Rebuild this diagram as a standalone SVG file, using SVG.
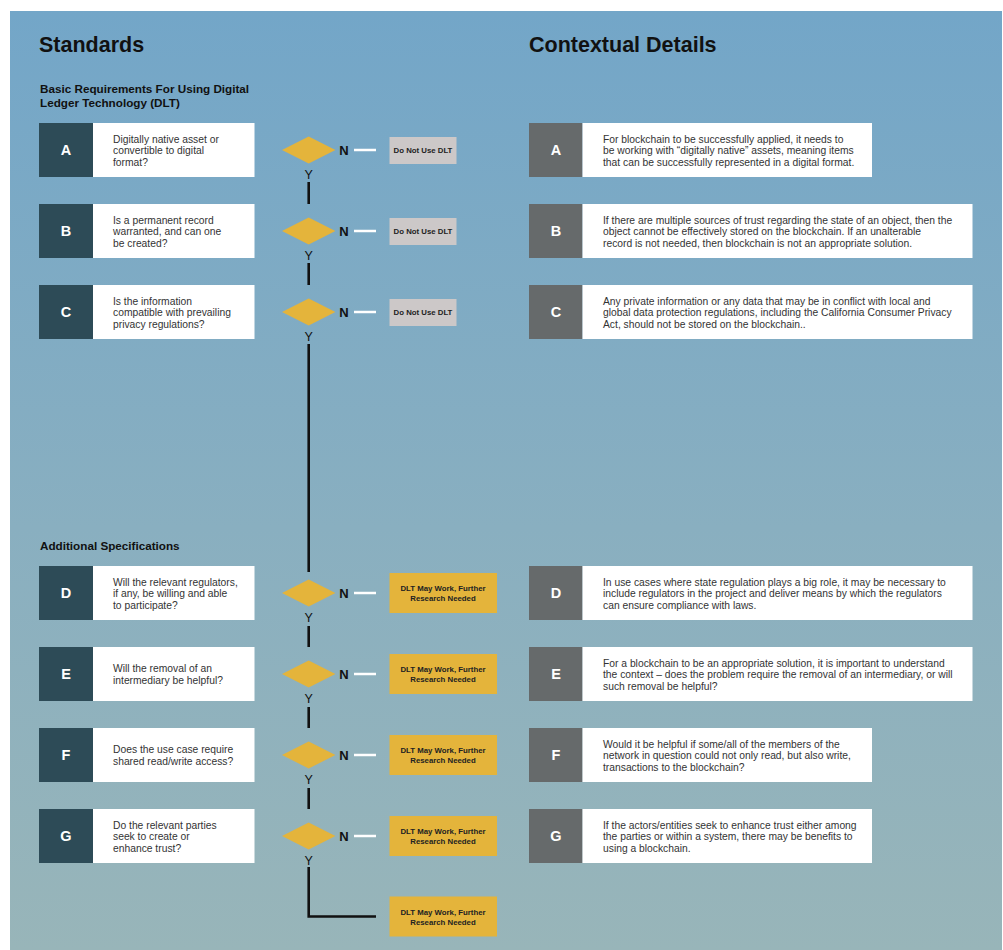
<svg xmlns="http://www.w3.org/2000/svg" width="1003" height="950" viewBox="0 0 1003 950">
<defs>
<linearGradient id="bg" x1="0" y1="0" x2="0" y2="1">
<stop offset="0" stop-color="#73A6C8"/>
<stop offset="0.55" stop-color="#89AFC0"/>
<stop offset="1" stop-color="#98B5B9"/>
</linearGradient>
<style>
text{font-family:"Liberation Sans",Arial,sans-serif;}
.h1{font-size:21.5px;font-weight:bold;fill:#111;}
.h2{font-size:11.7px;font-weight:bold;fill:#111;}
.lk{fill:#2D4B57;}
.rk{fill:#666A6B;}
.wb{fill:#FFFFFF;}
.let{font-size:14.5px;font-weight:bold;fill:#FFFFFF;text-anchor:middle;}
.q{font-size:10.3px;fill:#333;}
.d{font-size:10.3px;fill:#333;}
.dia{fill:#E4B43B;}
.nl{font-size:13px;font-weight:bold;fill:#111;text-anchor:middle;}
.yl{font-size:12.5px;fill:#111;text-anchor:middle;}
.grey{fill:#CCC8C8;}
.yel{fill:#E4B43B;}
.bt{font-size:7.8px;font-weight:bold;fill:#222;text-anchor:middle;}
.wl{stroke:#FFFFFF;stroke-width:2.5;fill:none;}
.kl{stroke:#111;stroke-width:2.6;fill:none;}
</style>
</defs>
<rect x="10" y="11" width="992" height="939" fill="url(#bg)"/>
<text class="h1" x="39" y="52">Standards</text>
<text class="h1" x="529" y="52">Contextual Details</text>
<text class="h2" x="40" y="93">Basic Requirements For Using Digital</text>
<text class="h2" x="40" y="107">Ledger Technology (DLT)</text>
<text class="h2" x="40" y="550">Additional Specifications</text>

<g id="connectors">
<line class="wl" x1="354" y1="150" x2="376" y2="150"/>
<line class="wl" x1="354" y1="231" x2="376" y2="231"/>
<line class="wl" x1="354" y1="312" x2="376" y2="312"/>
<line class="wl" x1="354" y1="593" x2="376" y2="593"/>
<line class="wl" x1="354" y1="674" x2="376" y2="674"/>
<line class="wl" x1="354" y1="755" x2="376" y2="755"/>
<line class="wl" x1="354" y1="836" x2="376" y2="836"/>
<line class="kl" x1="308.7" y1="182" x2="308.7" y2="204"/>
<line class="kl" x1="308.7" y1="263" x2="308.7" y2="285"/>
<line class="kl" x1="308.7" y1="344" x2="308.7" y2="572"/>
<line class="kl" x1="308.7" y1="626" x2="308.7" y2="647"/>
<line class="kl" x1="308.7" y1="707" x2="308.7" y2="728"/>
<line class="kl" x1="308.7" y1="788" x2="308.7" y2="809"/>
<polyline class="kl" points="308.7,867 308.7,916.5 376,916.5"/>
</g>

<g id="qA"><rect class="lk" x="39" y="123" width="54" height="54"/><rect class="wb" x="93" y="123" width="161.5" height="54"/><text class="let" x="66" y="155">A</text>
<text class="q" x="113" y="142.5">Digitally native asset or</text><text class="q" x="113" y="154">convertible to digital</text><text class="q" x="113" y="165.5">format?</text></g>
<g id="qB"><rect class="lk" x="39" y="204" width="54" height="54"/><rect class="wb" x="93" y="204" width="161.5" height="54"/><text class="let" x="66" y="236">B</text>
<text class="q" x="113" y="223.5">Is a permanent record</text><text class="q" x="113" y="235">warranted, and can one</text><text class="q" x="113" y="246.5">be created?</text></g>
<g id="qC"><rect class="lk" x="39" y="285" width="54" height="54"/><rect class="wb" x="93" y="285" width="161.5" height="54"/><text class="let" x="66" y="317">C</text>
<text class="q" x="113" y="304.5">Is the information</text><text class="q" x="113" y="316">compatible with prevailing</text><text class="q" x="113" y="327.5">privacy regulations?</text></g>
<g id="qD"><rect class="lk" x="39" y="566" width="54" height="54"/><rect class="wb" x="93" y="566" width="161.5" height="54"/><text class="let" x="66" y="598">D</text>
<text class="q" x="113" y="585.5">Will the relevant regulators,</text><text class="q" x="113" y="597">if any, be willing and able</text><text class="q" x="113" y="608.5">to participate?</text></g>
<g id="qE"><rect class="lk" x="39" y="647" width="54" height="54"/><rect class="wb" x="93" y="647" width="161.5" height="54"/><text class="let" x="66" y="679">E</text>
<text class="q" x="113" y="672">Will the removal of an</text><text class="q" x="113" y="683.5">intermediary be helpful?</text></g>
<g id="qF"><rect class="lk" x="39" y="728" width="54" height="54"/><rect class="wb" x="93" y="728" width="161.5" height="54"/><text class="let" x="66" y="760">F</text>
<text class="q" x="113" y="753">Does the use case require</text><text class="q" x="113" y="764.5">shared read/write access?</text></g>
<g id="qG"><rect class="lk" x="39" y="809" width="54" height="54"/><rect class="wb" x="93" y="809" width="161.5" height="54"/><text class="let" x="66" y="841">G</text>
<text class="q" x="113" y="828.5">Do the relevant parties</text><text class="q" x="113" y="840">seek to create or</text><text class="q" x="113" y="851.5">enhance trust?</text></g>

<g id="decA"><polygon class="dia" points="282,150 308.7,136.5 335.4,150 308.7,163.5"/><text class="nl" x="344" y="155">N</text><text class="yl" x="308.7" y="179">Y</text></g>
<g id="decB"><polygon class="dia" points="282,231 308.7,217.5 335.4,231 308.7,244.5"/><text class="nl" x="344" y="236">N</text><text class="yl" x="308.7" y="260">Y</text></g>
<g id="decC"><polygon class="dia" points="282,312 308.7,298.5 335.4,312 308.7,325.5"/><text class="nl" x="344" y="317">N</text><text class="yl" x="308.7" y="341">Y</text></g>
<g id="decD"><polygon class="dia" points="282,593 308.7,579.5 335.4,593 308.7,606.5"/><text class="nl" x="344" y="598">N</text><text class="yl" x="308.7" y="622">Y</text></g>
<g id="decE"><polygon class="dia" points="282,674 308.7,660.5 335.4,674 308.7,687.5"/><text class="nl" x="344" y="679">N</text><text class="yl" x="308.7" y="703">Y</text></g>
<g id="decF"><polygon class="dia" points="282,755 308.7,741.5 335.4,755 308.7,768.5"/><text class="nl" x="344" y="760">N</text><text class="yl" x="308.7" y="784">Y</text></g>
<g id="decG"><polygon class="dia" points="282,836 308.7,822.5 335.4,836 308.7,849.5"/><text class="nl" x="344" y="841">N</text><text class="yl" x="308.7" y="865">Y</text></g>

<g id="outA"><rect class="grey" x="389.5" y="137" width="67" height="27"/><text class="bt" x="423" y="153">Do Not Use DLT</text></g>
<g id="outB"><rect class="grey" x="389.5" y="218" width="67" height="27"/><text class="bt" x="423" y="234">Do Not Use DLT</text></g>
<g id="outC"><rect class="grey" x="389.5" y="299" width="67" height="27"/><text class="bt" x="423" y="315">Do Not Use DLT</text></g>
<g id="outD"><rect class="yel" x="389.5" y="573" width="107.5" height="40"/><text class="bt" x="443" y="591">DLT May Work, Further</text><text class="bt" x="443" y="601">Research Needed</text></g>
<g id="outE"><rect class="yel" x="389.5" y="654" width="107.5" height="40"/><text class="bt" x="443" y="672">DLT May Work, Further</text><text class="bt" x="443" y="682">Research Needed</text></g>
<g id="outF"><rect class="yel" x="389.5" y="735" width="107.5" height="40"/><text class="bt" x="443" y="753">DLT May Work, Further</text><text class="bt" x="443" y="763">Research Needed</text></g>
<g id="outG"><rect class="yel" x="389.5" y="816" width="107.5" height="40"/><text class="bt" x="443" y="834">DLT May Work, Further</text><text class="bt" x="443" y="844">Research Needed</text></g>
<g id="outFinal"><rect class="yel" x="389.5" y="896.5" width="107.5" height="40"/><text class="bt" x="443" y="914.5">DLT May Work, Further</text><text class="bt" x="443" y="924.5">Research Needed</text></g>

<g id="cA"><rect class="rk" x="529" y="123" width="53.5" height="54"/><rect class="wb" x="582.5" y="123" width="289.5" height="54"/><text class="let" x="556" y="155">A</text>
<text class="d" x="603" y="142.5">For blockchain to be successfully applied, it needs to</text><text class="d" x="603" y="154">be working with “digitally native” assets, meaning items</text><text class="d" x="603" y="165.5">that can be successfully represented in a digital format.</text></g>
<g id="cB"><rect class="rk" x="529" y="204" width="53.5" height="54"/><rect class="wb" x="582.5" y="204" width="390" height="54"/><text class="let" x="556" y="236">B</text>
<text class="d" x="603" y="223.5">If there are multiple sources of trust regarding the state of an object, then the</text><text class="d" x="603" y="235">object cannot be effectively stored on the blockchain. If an unalterable</text><text class="d" x="603" y="246.5">record is not needed, then blockchain is not an appropriate solution.</text></g>
<g id="cC"><rect class="rk" x="529" y="285" width="53.5" height="54"/><rect class="wb" x="582.5" y="285" width="390" height="54"/><text class="let" x="556" y="317">C</text>
<text class="d" x="603" y="304.5">Any private information or any data that may be in conflict with local and</text><text class="d" x="603" y="316">global data protection regulations, including the California Consumer Privacy</text><text class="d" x="603" y="327.5">Act, should not be stored on the blockchain..</text></g>
<g id="cD"><rect class="rk" x="529" y="566" width="53.5" height="54"/><rect class="wb" x="582.5" y="566" width="390" height="54"/><text class="let" x="556" y="598">D</text>
<text class="d" x="603" y="585.5">In use cases where state regulation plays a big role, it may be necessary to</text><text class="d" x="603" y="597">include regulators in the project and deliver means by which the regulators</text><text class="d" x="603" y="608.5">can ensure compliance with laws.</text></g>
<g id="cE"><rect class="rk" x="529" y="647" width="53.5" height="54"/><rect class="wb" x="582.5" y="647" width="390" height="54"/><text class="let" x="556" y="679">E</text>
<text class="d" x="603" y="666.5">For a blockchain to be an appropriate solution, it is important to understand</text><text class="d" x="603" y="678">the context – does the problem require the removal of an intermediary, or will</text><text class="d" x="603" y="689.5">such removal be helpful?</text></g>
<g id="cF"><rect class="rk" x="529" y="728" width="53.5" height="54"/><rect class="wb" x="582.5" y="728" width="289.5" height="54"/><text class="let" x="556" y="760">F</text>
<text class="d" x="603" y="747.5">Would it be helpful if some/all of the members of the</text><text class="d" x="603" y="759">network in question could not only read, but also write,</text><text class="d" x="603" y="770.5">transactions to the blockchain?</text></g>
<g id="cG"><rect class="rk" x="529" y="809" width="53.5" height="54"/><rect class="wb" x="582.5" y="809" width="289.5" height="54"/><text class="let" x="556" y="841">G</text>
<text class="d" x="603" y="828.5">If the actors/entities seek to enhance trust either among</text><text class="d" x="603" y="840">the parties or within a system, there may be benefits to</text><text class="d" x="603" y="851.5">using a blockchain.</text></g>
</svg>
